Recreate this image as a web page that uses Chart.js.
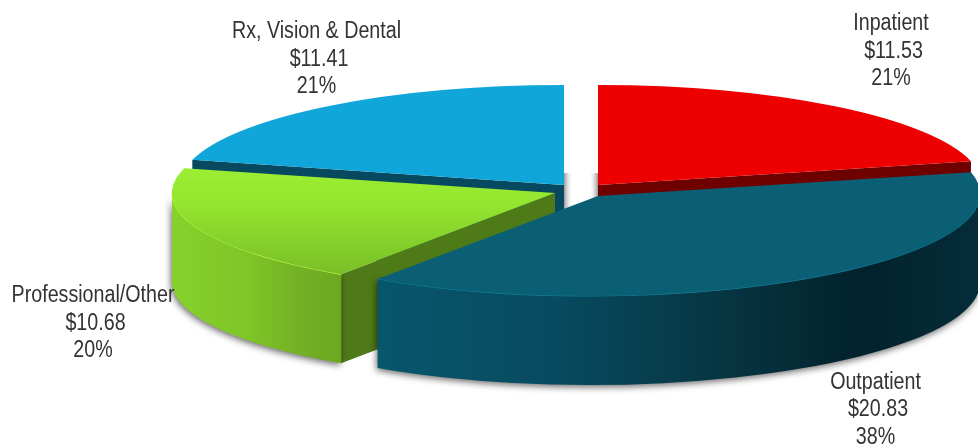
<!DOCTYPE html>
<html>
<head>
<meta charset="utf-8">
<title>Spend by category</title>
<style>
  html, body { margin: 0; padding: 0; background: #fff; }
  #wrap { position: relative; width: 978px; height: 445px; overflow: hidden; }
</style>
</head>
<body>
<div id="wrap"><canvas id="pieChart" width="978" height="445"></canvas></div>
<script src="https://cdn.jsdelivr.net/npm/chart.js@4"></script>
<script>
const categories = ['Inpatient', 'Outpatient', 'Professional/Other', 'Rx, Vision & Dental'];
const amounts = [11.53, 20.83, 10.68, 11.41];
const percents = [21, 38, 20, 21];

// Each slice sits in its own squashed frame, pulled away from the others
const frames = [
    { cx: 598, cy: 185, rx: 384, ry: 100, shear: 0 },
    { cx: 598, cy: 196, rx: 382, ry: 100, shear: -0.085 },
    { cx: 555, cy: 193, rx: 383, ry: 98, shear: 0 },
    { cx: 564, cy: 185, rx: 384, ry: 100, shear: 0 }
];
const DEPTH = 89;
const drawOrder = [3, 0, 2, 1];

const labelSpots = [
    { x: 891, y: 30 },
    { x: 875.5, y: 388.5 },
    { x: 93, y: 302 },
    { x: 316.5, y: 38 }
];
const LINE_HEIGHT = 27.5;
const AMOUNT_NUDGE = 2.5;
const TEXT_SQUEEZE = 0.855;

const ctx = document.getElementById('pieChart').getContext('2d');

// Top face of the green slice is lit from the back
const greenTop = ctx.createLinearGradient(0, 170, 0, 410);
greenTop.addColorStop(0, '#9bee32');
greenTop.addColorStop(0.35, '#93e42f');
greenTop.addColorStop(1, '#78be26');

function horizontalGradient(x0, x1, stops) {
    const g = ctx.createLinearGradient(x0, 0, x1, 0);
    stops.forEach(s => g.addColorStop(s[0], s[1]));
    return g;
}

// Set the context so that the unit circle lands on a slice's rim
function useFrame(c, f, dy) {
    c.setTransform(f.rx, 0, f.shear * f.ry, f.ry, f.cx, f.cy + dy);
}

// Flat cut face between the rim point at `angle` and the slice's centre
function cutFace(c, f, angle, color) {
    const x = Math.cos(angle), y = Math.sin(angle);
    c.save();
    c.beginPath();
    useFrame(c, f, 0);
    c.moveTo(0, 0);
    c.lineTo(x, y);
    useFrame(c, f, DEPTH);
    c.lineTo(x, y);
    c.lineTo(0, 0);
    c.closePath();
    c.restore();
    c.fillStyle = color;
    c.fill();
}

// Curved outer wall below the rim, only the front half of the circle shows
function outerWall(c, f, startAngle, endAngle, fill, rimColor) {
    const start = Math.max(startAngle, 0);
    const end = Math.min(endAngle, Math.PI);
    c.save();
    c.beginPath();
    useFrame(c, f, 0);
    c.arc(0, 0, 1, start, end);
    useFrame(c, f, DEPTH);
    c.arc(0, 0, 1, end, start, true);
    c.closePath();
    c.restore();
    c.save();
    c.shadowColor = 'rgba(0, 0, 0, 0.6)';
    c.shadowBlur = 7;
    c.shadowOffsetX = -1;
    c.shadowOffsetY = 2;
    c.fillStyle = fill;
    c.fill();
    c.restore();
    c.save();
    c.beginPath();
    useFrame(c, f, 0);
    c.arc(0, 0, 1, start, end);
    c.restore();
    c.strokeStyle = rimColor;
    c.lineWidth = 1.2;
    c.stroke();
}

function topFace(c, f, arc) {
    const R = arc.outerRadius;
    c.save();
    c.translate(f.cx, f.cy);
    c.transform(f.rx / R, 0, f.shear * f.ry / R, f.ry / R, 0, 0);
    c.translate(-arc.x, -arc.y);
    arc.draw(c);
    c.restore();
}

// Soft grey shading in the gap between the two back slices
function gapShade(c) {
    c.fillStyle = horizontalGradient(564, 573, [[0, '#9a9a9a'], [1, 'rgba(255,255,255,0)']]);
    c.fillRect(564, 173, 9, 40);
    c.fillStyle = horizontalGradient(589, 598, [[0, 'rgba(255,255,255,0)'], [1, '#9a9a9a']]);
    c.fillRect(589, 173, 9, 30);
}

const pie3d = {
    id: 'pie3d',
    beforeDatasetsDraw(chart) {
        const c = chart.ctx;
        const arcs = chart.getDatasetMeta(0).data;
        gapShade(c);
        drawOrder.forEach(i => {
            const arc = arcs[i];
            const f = frames[i];
            if (i === 3) {
                cutFace(c, f, arc.startAngle, '#07495f');
            } else if (i === 0) {
                cutFace(c, f, arc.endAngle, '#6e0000');
            } else if (i === 2) {
                cutFace(c, f, arc.startAngle, '#4f7a18');
                outerWall(c, f, arc.startAngle, arc.endAngle,
                    horizontalGradient(172, 345, [[0, '#86d22b'], [0.45, '#7ec528'], [0.75, '#73b024'], [1, '#6ca620']]),
                    '#b4f43e');
            } else {
                outerWall(c, f, arc.startAngle, arc.endAngle,
                    horizontalGradient(381, 978, [[0, '#07566c'], [0.3, '#084a5f'], [0.6, '#06333f'], [0.8, '#02222c'], [1, '#052c39']]),
                    '#0d7f9c');
            }
            topFace(c, f, arc);
        });
        return false;
    },
    afterDraw(chart) {
        const c = chart.ctx;
        c.font = '23px "Liberation Sans", sans-serif';
        c.fillStyle = '#333333';
        c.textAlign = 'center';
        c.textBaseline = 'alphabetic';
        categories.forEach((name, i) => {
            const lines = [name, '$' + amounts[i].toFixed(2), percents[i] + '%'];
            lines.forEach((line, n) => {
                // No narrow face is installed, so squeeze the regular one
                c.save();
                c.translate(labelSpots[i].x + (n === 1 ? AMOUNT_NUDGE : 0), labelSpots[i].y + n * LINE_HEIGHT);
                c.scale(TEXT_SQUEEZE, 1);
                c.fillText(line, 0, 0);
                c.restore();
            });
        });
    }
};

const pieChart = new Chart(ctx, {
    type: 'pie',
    data: {
        labels: categories,
        datasets: [{
            data: amounts,
            backgroundColor: ['#ee0000', '#0a5f75', greenTop, '#11a6da'],
            borderWidth: 0
        }]
    },
    options: {
        responsive: false,
        animation: false,
        events: [],
        plugins: {
            legend: { display: false },
            tooltip: { enabled: false }
        }
    },
    plugins: [pie3d]
});
</script>
</body>
</html>
